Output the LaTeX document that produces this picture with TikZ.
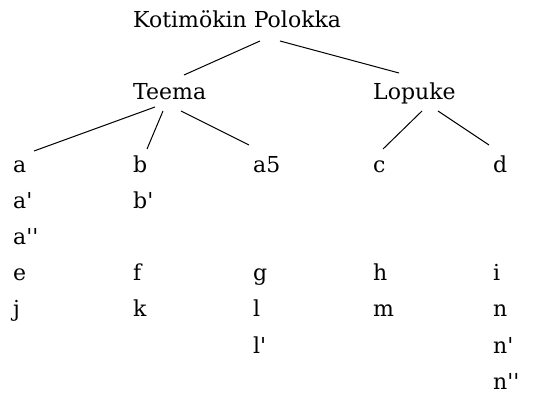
\documentclass[tikz,border=0pt]{standalone}
\usepackage{fontspec}
\setmainfont{DejaVu Serif}
\usetikzlibrary{calc}
\newcommand{\qq}{\textquotesingle}
\begin{document}
\begin{tikzpicture}[x=1pt,y=-1pt,
  lbl/.style={anchor=base west,inner sep=0pt,font=\fontsize{22}{26}\selectfont},
  edge/.style={line width=1pt,black}]
\useasboundingbox (0,0) rectangle (559,401);
\node[lbl] (root) at (133,28) {Kotimökin Polokka};
\node[lbl] (teema) at (133,100) {Teema};
\node[lbl] (lopuke) at (373,100) {Lopuke};
% column leaves
\def\r#1{172+36.2*#1}
\node[lbl] (a) at (13,172) {a};
\node[lbl] (a1) at (13,{\r{1}}) {a\qq};
\node[lbl] (a2) at (13,{\r{2}}) {a\qq\qq};
\node[lbl] (e) at (13,{\r{3}}) {e};
\node[lbl] (j) at (13,{\r{4}}) {j};
\node[lbl] (b) at (133,172) {b};
\node[lbl] (b1) at (133,{\r{1}}) {b\qq};
\node[lbl] (f) at (133,{\r{3}}) {f};
\node[lbl] (k) at (133,{\r{4}}) {k};
\node[lbl] (a5) at (253,172) {a5};
\node[lbl] (g) at (253,{\r{3}}) {g};
\node[lbl] (l) at (253,{\r{4}}) {l};
\node[lbl] (l1) at (253,{\r{5}}) {l\qq};
\node[lbl] (c) at (373,172) {c};
\node[lbl] (h) at (373,{\r{3}}) {h};
\node[lbl] (m) at (373,{\r{4}}) {m};
\node[lbl] (d) at (493,172) {d};
\node[lbl] (i) at (493,{\r{3}}) {i};
\node[lbl] (n) at (493,{\r{4}}) {n};
\node[lbl] (n1) at (493,{\r{5}}) {n\qq};
\node[lbl] (n2) at (493,{\r{6}}) {n\qq\qq};
% connectors
\draw[edge] ($(root.base west)+(127,13)$) -- ($(teema.base west)+(51,-25)$);
\draw[edge] ($(root.base west)+(147,13)$) -- ($(lopuke.base west)+(26,-27)$);
\draw[edge] ($(teema.base west)+(22,7)$) -- ($(a.base west)+(21,-21)$);
\draw[edge] ($(teema.base west)+(30,11)$) -- ($(b.base west)+(14,-23)$);
\draw[edge] ($(teema.base west)+(48,11)$) -- ($(a5.base west)+(-4,-27)$);
\draw[edge] ($(lopuke.base west)+(49,11)$) -- ($(c.base west)+(10,-23)$);
\draw[edge] ($(lopuke.base west)+(65,11)$) -- ($(d.base west)+(-4,-27)$);
\end{tikzpicture}
\end{document}
